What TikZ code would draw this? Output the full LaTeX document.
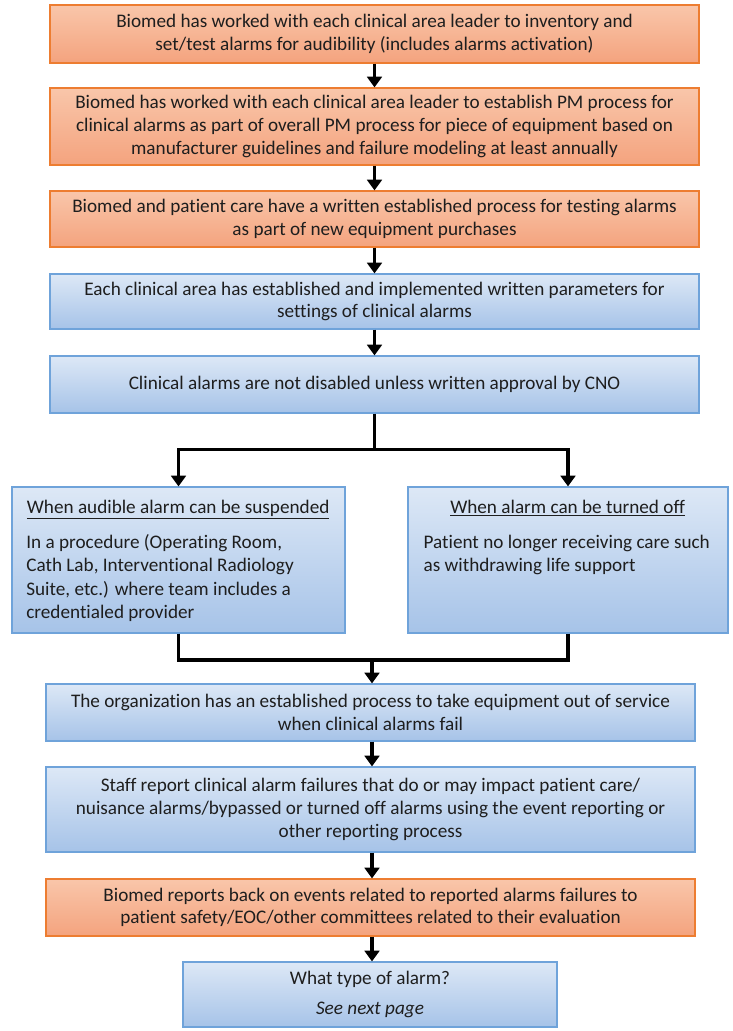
\documentclass[tikz,border=0pt]{standalone}
\usepackage{fontspec}
\setmainfont[RawFeature={-liga;-clig;-calt}]{Carlito}
\usetikzlibrary{arrows.meta}
\definecolor{orangetop}{HTML}{F9C6AA}
\definecolor{orangebot}{HTML}{F4A37E}
\definecolor{orangeline}{HTML}{ED7D31}
\definecolor{bluetop}{HTML}{DDE8F6}
\definecolor{bluebot}{HTML}{A6C3E8}
\definecolor{blueline}{HTML}{6FA3DA}
\definecolor{inktext}{HTML}{1E1E1E}
\tikzset{
  orangebox/.style={rectangle,draw=orangeline,line width=0.9pt,top color=orangetop,bottom color=orangebot,
    inner sep=0pt,align=center,text=inktext,font=\fontsize{14.4}{16.9}\selectfont,minimum width=486.75pt},
  bluebox/.style={rectangle,draw=blueline,line width=0.9pt,top color=bluetop,bottom color=bluebot,
    inner sep=0pt,align=center,text=inktext,font=\fontsize{14.4}{16.9}\selectfont,minimum width=486.75pt},
  branchtext/.style={anchor=north west,align=left,text=inktext,font=\fontsize{14.4}{17.6}\selectfont,inner sep=0pt},
  flowarrow/.style={line width=2.6pt,-{Triangle[width=11pt,length=8pt]}},
  flowline/.style={line width=2.6pt}
}
\begin{document}
\begin{tikzpicture}[x=0.75pt,y=-0.75pt]
	% fixed page size
	\useasboundingbox (0,0) rectangle (732,1031);
	% upper chain of boxes
	\node[orangebox,minimum height=43.5pt] (inventory) at (374.5,34) {Biomed has worked with each clinical area leader to inventory and\\ set/test alarms for audibility (includes alarms activation)};
	\node[orangebox,minimum height=57.75pt] (pmprocess) at (374.5,126.5) {Biomed has worked with each clinical area leader to establish PM process for\\ clinical alarms as part of overall PM process for piece of equipment based on\\ manufacturer guidelines and failure modeling at least annually};
	\node[orangebox,minimum height=42pt] (testing) at (374.5,219) {Biomed and patient care have a written established process for testing alarms\\ as part of new equipment purchases};
	\node[bluebox,minimum height=41.25pt] (parameters) at (374.5,301.5) {Each clinical area has established and implemented written parameters for\\ settings of clinical alarms};
	\node[bluebox,minimum height=42.75pt] (disabled) at (374.5,384.5) {Clinical alarms are not disabled unless written approval by CNO};
	% the two branches
	\node[bluebox,minimum width=249.75pt,minimum height=109.5pt] (suspend) at (178.5,560) {};
	\node[branchtext] (suspendtxt) at ([xshift=11pt,yshift=-10pt]suspend.north west)
		{\hbox to 227.75pt{\hfil\underline{When audible alarm can be suspended}\hfil}\\[8.5pt]
		In a procedure (Operating Room,\\ Cath Lab, Interventional Radiology\\ Suite, etc.) where team includes a\\ credentialed provider};
	\node[bluebox,minimum width=240pt,minimum height=109.5pt] (turnoff) at (568,560) {};
	\node[branchtext] (turnofftxt) at ([xshift=12pt,yshift=-10pt]turnoff.north west)
		{\hbox to 216pt{\hfil\underline{When alarm can be turned off}\hfil}\\[8.5pt]
		Patient no longer receiving care such\\ as withdrawing life support};
	% lower chain of boxes
	\node[bluebox,minimum height=42.75pt] (service) at (370.5,712.5) {The organization has an established process to take equipment out of service\\ when clinical alarms fail};
	\node[bluebox,minimum height=63.75pt] (report) at (370.5,809.5) {Staff report clinical alarm failures that do or may impact patient care/\\ nuisance alarms/bypassed or turned off alarms using the event reporting or\\ other reporting process};
	\node[orangebox,minimum height=42.75pt] (feedback) at (370.5,907.5) {Biomed reports back on events related to reported alarms failures to\\ patient safety/EOC/other committees related to their evaluation};
	\node[bluebox,minimum width=280.5pt,minimum height=48.75pt] (alarmtype) at (370,994.5) {What type of alarm?\\[5.6pt] \textit{See next page}};
	% arrows of the upper chain
	\draw[flowarrow] (inventory) -- (pmprocess);
	\draw[flowarrow] (pmprocess) -- (testing);
	\draw[flowarrow] (testing) -- (parameters);
	\draw[flowarrow] (parameters) -- (disabled);
	% split into the branches
	\coordinate (split) at ([yshift=-27pt]disabled.south);
	\draw[flowline] (disabled.south) -- (split);
	\draw[flowarrow] (split) -| (suspend.north);
	\draw[flowarrow] (split) -| (turnoff.north);
	% merge of the branches
	\coordinate (merge) at (372,660);
	\draw[flowline] (suspend.south) |- (merge);
	\draw[flowline] (turnoff.south) |- (merge);
	\draw[flowarrow] (merge) -- (merge |- service.north);
	% arrows of the lower chain
	\draw[flowarrow] (service.south -| merge) -- (report.north -| merge);
	\draw[flowarrow] (report.south -| merge) -- (feedback.north -| merge);
	\draw[flowarrow] (feedback.south -| merge) -- (alarmtype.north -| merge);
\end{tikzpicture}
\end{document}
